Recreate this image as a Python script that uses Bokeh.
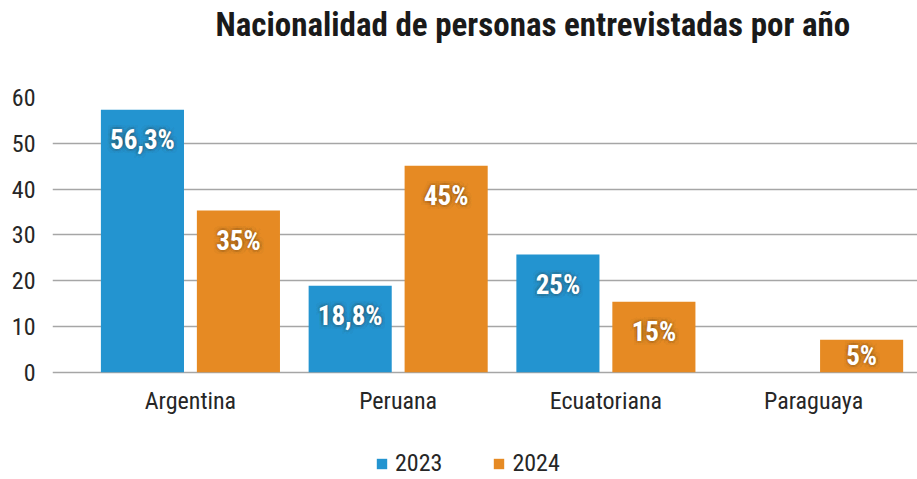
from bokeh.plotting import figure
from bokeh.models import Range1d, FixedTicker, Legend, LegendItem, ColumnDataSource, LabelSet, Title
from bokeh.core.properties import value
from bokeh.transform import dodge
from bokeh.embed import file_html
from bokeh.resources import INLINE

# ---- data ----
categories = ["Argentina", "Peruana", "Ecuatoriana", "Paraguaya"]
years = ["2023", "2024"]
values_2023 = [57.3, 18.9, 25.7, 0.0]
values_2024 = [35.3, 45.1, 15.4, 7.1]
labels_2023 = ["56,3%", "18,8%", "25%", ""]
labels_2024 = ["35%", "45%", "15%", "5%"]
y_ticks = [0, 10, 20, 30, 40, 50, 60]
title_text = "Nacionalidad de personas entrevistadas por año"

BLUE = "#2394D0"
ORANGE = "#E68A23"
FONT = "Roboto Condensed, Roboto"

xpos = list(range(len(categories)))

def label_y(vals):
    return [max(v - 6.6, v / 2.0) for v in vals]

src = ColumnDataSource(dict(
    x=xpos, cat=categories,
    v23=values_2023, v24=values_2024,
    l23=labels_2023, l24=labels_2024,
    ly23=label_y(values_2023), ly24=label_y(values_2024),
))

# the frame runs down to the bottom of the canvas so that category names and
# legend can sit inside it; only 0..60 carries ticks and grid lines
p = figure(width=917, height=479, frame_width=865, frame_height=382,
           output_backend="svg", toolbar_location=None,
           x_range=Range1d(-0.664, 3.5), y_range=Range1d(-23.41, 60),
           min_border_left=52, min_border_right=0, min_border_top=97, min_border_bottom=0)
p.outline_line_color = None
p.background_fill_color = "white"
p.border_fill_color = "white"

off = 0.231
bw = 0.40
r23 = p.vbar(x=dodge("x", -off), top="v23", width=bw, source=src, color=BLUE, line_color=None)
r24 = p.vbar(x=dodge("x", off), top="v24", width=bw, source=src, color=ORANGE, line_color=None)

# soft dark halo behind the value labels
halo = []
for r, a in ((4, 0.05), (2, 0.08)):
    for dx_px, dy_px in ((r, 0), (-r, 0), (0, r), (0, -r), (r, r), (-r, r), (r, -r), (-r, -r)):
        halo.append((dx_px, dy_px, a))

for col, ly, dx in (("l23", "ly23", -off), ("l24", "ly24", off)):
    for hx, hy, a in halo:
        p.add_layout(LabelSet(x=dodge("x", dx), y=ly, text=col, source=src,
                              x_offset=hx, y_offset=hy,
                              text_align="center", text_baseline="middle",
                              text_color="#3A2A10", text_alpha=a, text_font=value(FONT),
                              text_font_style="bold", text_font_size="27px"))
    p.add_layout(LabelSet(x=dodge("x", dx), y=ly, text=col, source=src,
                          text_align="center", text_baseline="middle",
                          text_color="white", text_font=value(FONT), text_font_style="bold",
                          text_font_size="27px"))

# category names under the baseline
p.add_layout(LabelSet(x="x", y=-6.17, text="cat", source=src,
                      text_align="center", text_baseline="middle",
                      text_color="#262626", text_font=value(FONT), text_font_size="24px"))

# axes
p.yaxis.ticker = FixedTicker(ticks=y_ticks)
p.yaxis.axis_line_color = None
p.yaxis.major_tick_line_color = None
p.yaxis.minor_tick_line_color = None
p.yaxis.major_label_standoff = 11
p.yaxis.major_label_text_font = FONT
p.yaxis.major_label_text_font_size = "24px"
p.yaxis.major_label_text_color = "#262626"

p.xaxis.visible = False

p.xgrid.grid_line_color = None
p.ygrid.ticker = FixedTicker(ticks=y_ticks)
p.ygrid.grid_line_color = "#A6A6A6"
p.ygrid.grid_line_width = 1.5

# spacer between frame and title
p.add_layout(Title(text=" ", text_font_size="10px", standoff=39), "above")

# title (outermost in the top panel)
p.title.text = title_text
p.title.align = "left"
p.title.offset = 163
p.title.vertical_align = "top"
p.title.standoff = 0
p.title.text_font = FONT
p.title.text_font_style = "bold"
p.title.text_font_size = "33px"
p.title.text_color = "#1A1A1A"

legend = Legend(items=[LegendItem(label=years[0], renderers=[r23]),
                       LegendItem(label=years[1], renderers=[r24])],
                orientation="horizontal", location=(323, 2),
                glyph_width=13, glyph_height=13, label_standoff=7, spacing=50,
                padding=0, margin=0, border_line_color=None, background_fill_alpha=0,
                label_text_font=FONT, label_text_font_size="24px", label_text_color="#262626",
                label_height=24)
p.add_layout(legend, "center")

open("out.html", "w").write(file_html(p, INLINE))
